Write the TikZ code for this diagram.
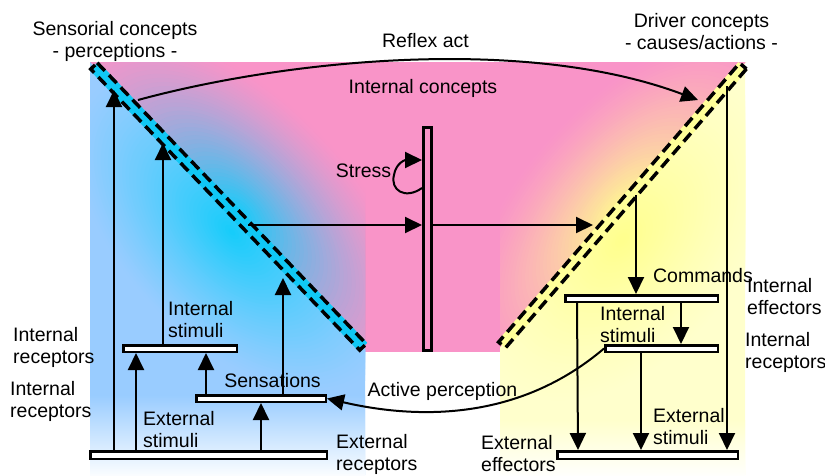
\documentclass[tikz,border=0pt]{standalone}
\usepackage{fontspec}
\setmainfont{Liberation Sans}
\usetikzlibrary{arrows.meta,calc}

\definecolor{pinkC}{HTML}{F994C8}
\definecolor{lblue}{HTML}{99CCFF}
\definecolor{cyanG}{HTML}{14CCFA}
\definecolor{cyanB}{HTML}{10C8F5}
\definecolor{yelP}{HTML}{FFFFCC}
\definecolor{yelB}{HTML}{FFFF8C}
\definecolor{yelBand}{HTML}{FFFF99}

% soft elliptic glow built from concentric ellipses:
% centre x, centre y, angle, x radius, y radius, inner colour, outer colour, falloff exponent
\newcommand\softglow[8]{%
  \begin{scope}[shift={(#1,#2)},rotate=#3]
    \foreach \k in {0,...,44}{%
      \pgfmathsetmacro\gs{1-\k/45}%
      \pgfmathsetmacro\gp{100*(1-\gs)^#8}%
      \pgfmathsetmacro\grx{\gs*#4}%
      \pgfmathsetmacro\gry{\gs*#5}%
      \fill[#6!\gp!#7] (0,0) ellipse [x radius=\grx pt, y radius=\gry pt];
    }
  \end{scope}}

\tikzset{
  bar/.style={draw, line width=2.5pt, fill=white, inner sep=0pt, minimum height=6.5pt},
  arr/.style={line width=2pt, -{Triangle[length=17pt,width=16pt]}},
  bandline/.style={line width=3.5pt, dash pattern=on 11pt off 6pt},
  lbl/.style={inner sep=0pt, align=left, anchor=west},
  txt/.style={inner sep=0pt, align=center}
}

\begin{document}
\begin{tikzpicture}[x=1pt,y=-1pt,font=\fontsize{19.5pt}{22pt}\selectfont]
\useasboundingbox (0,0) rectangle (825,475);

% ---- background areas ----
\fill[pinkC] (90,62) rectangle (745,352);

% left: perception side
\begin{scope}
  \clip (90,62) -- (365,62) -- (365,349) -- cycle;
  \softglow{240}{213}{-46.25}{230}{115}{cyanG}{pinkC}{1.4}
\end{scope}
\fill[lblue] (90,62) -- (365,349) -- (365,475) -- (90,475) -- cycle;
\shade[top color=lblue, bottom color=white!95!lblue] (90,395) rectangle (365,475);
\begin{scope}
  \clip (90,62) -- (365,349) -- (365,475) -- (90,475) -- cycle;
  \softglow{232}{232}{-46.25}{200}{110}{cyanG}{lblue}{1.2}
\end{scope}

% right: action side
\begin{scope}
  \clip (500,62) -- (746,62) -- (500,348) -- cycle;
  \softglow{622}{212}{49.2}{215}{105}{yelB}{pinkC}{1.3}
\end{scope}
\fill[yelP] (746,62) -- (500,348) -- (500,475) -- (745,475) -- (745,62) -- cycle;
\shade[top color=yelP, bottom color=white!94!yelP] (500,420) rectangle (745,475);
\begin{scope}
  \clip (746,62) -- (500,348) -- (500,475) -- (745,475) -- (745,62) -- cycle;
  \softglow{622}{240}{49.2}{190}{120}{yelB}{yelP}{1.2}
\end{scope}

% ---- dashed diagonal bands ----
\coordinate (LA) at (94,66);
\coordinate (LB) at (363,347);
\fill[cyanB] ($(LA)!6pt!90:(LB)$) -- ($(LB)!6pt!-90:(LA)$) -- ($(LB)!6pt!90:(LA)$) -- ($(LA)!6pt!-90:(LB)$) -- cycle;
\draw[bandline] ($(LA)!4.5pt!90:(LB)$) -- ($(LB)!4.5pt!-90:(LA)$) -- ($(LB)!4.5pt!90:(LA)$) -- ($(LA)!4.5pt!-90:(LB)$) -- cycle;

\coordinate (RA) at (743,66);
\coordinate (RB) at (502,345);
\fill[yelBand] ($(RA)!6pt!90:(RB)$) -- ($(RB)!6pt!-90:(RA)$) -- ($(RB)!6pt!90:(RA)$) -- ($(RA)!6pt!-90:(RB)$) -- cycle;
\draw[bandline] ($(RA)!4.5pt!90:(RB)$) -- ($(RB)!4.5pt!-90:(RA)$) -- ($(RB)!4.5pt!90:(RA)$) -- ($(RA)!4.5pt!-90:(RB)$) -- cycle;

% ---- bars ----
\node[bar, minimum width=113.5pt] (irL) at (180,348.5) {};
\node[bar, minimum width=129.5pt] (sens) at (261,398.5) {};
\node[bar, minimum width=236.5pt, minimum height=7.5pt] (erL) at (208.5,455) {};
\node[bar, minimum width=152.5pt] (ieR) at (641.5,298.5) {};
\node[bar, minimum width=112.5pt] (irR) at (661.5,348.5) {};
\node[bar, minimum width=180.5pt, minimum height=7.5pt] (eeR) at (647.5,455) {};
\node[draw, line width=3pt, inner sep=0pt, minimum width=8pt, minimum height=223pt] (core) at (427.5,239) {};

% ---- perception side arrows ----
\coordinate (tL1) at (114,90);
\coordinate (tL2) at (163,143);
\coordinate (tL3) at (283,278);
\draw[arr] ([xshift=-94.5pt]erL.north) -- (tL1);
\draw[arr] ([xshift=-17pt]irL.north) -- (tL2);
\draw[arr] ([xshift=22pt]sens.north) -- (tL3);
\draw[arr] ([xshift=-72.5pt]erL.north) -- ([xshift=-44pt]irL.south);
\draw[arr] ([xshift=-55pt]sens.north) -- ([xshift=26pt]irL.south);
\draw[arr] ([xshift=52.5pt]erL.north) -- (sens.south);

% ---- through the internal concepts ----
\coordinate (hL) at (248,225);
\coordinate (hR) at (593,225);
\draw[arr] (hL) -- (hL -| core.west);
\draw[arr] (hR -| core.east) -- (hR);
\draw[arr] ([yshift=51pt]core.west) .. controls (405,200) and (390,190) .. (394,175)
  .. controls (396,163) and (405,160) .. ([yshift=79pt]core.west);

% ---- action side arrows ----
\coordinate (sR1) at (727,86);
\coordinate (sR2) at (636,195);
\draw[arr] (sR1) -- (sR1 |- eeR.north);
\draw[arr] (sR2) -- (sR2 |- ieR.north);
\draw[arr] ([xshift=39.5pt]ieR.south) -- ([xshift=19.5pt]irR.north);
\draw[arr] ([xshift=-64.5pt]ieR.south) -- ([xshift=-69.5pt]eeR.north);
\draw[arr] ([xshift=-20.5pt]irR.south) -- ([xshift=-6.5pt]eeR.north);

% ---- reflex act and active perception ----
\coordinate (rfA) at (138,100);
\coordinate (rfB) at (698,100);
\draw[arr] (rfA) .. controls (285,60) and (525,35) .. (rfB);
\draw[arr] (irR.west) .. controls (520,420) and (420,420) .. (sens.east);

% ---- labels ----
\node[txt] (tSens) at (115,41.5) {Sensorial concepts\\- perceptions -};
\node[txt] (tDrv) at (701.5,31.5) {Driver concepts\\- causes/actions -};
\node[txt] (tRef) at (425.5,41) {Reflex act};
\node[txt] (tInt) at (423,88) {Internal concepts};
\node[txt] (tStr) at (363.5,171) {Stress};
\node[lbl] (tIsL) at (168,320) {Internal\\stimuli};
\node[lbl] (tIr1) at (13,347.5) {Internal\\receptors};
\node[lbl] (tIr2) at (10,401) {Internal\\receptors};
\node[txt] (tSn) at (272.5,381) {Sensations};
\node[lbl] (tEsL) at (143,430) {External\\stimuli};
\node[lbl] (tErL) at (336,454) {External\\receptors};
\node[txt] (tAP) at (442.5,391) {Active perception};
\node[txt] (tCmd) at (703,276) {Commands};
\node[lbl] (tIe) at (747,297) {Internal\\effectors};
\node[lbl] (tIsR) at (600,325) {Internal\\stimuli};
\node[lbl] (tIrR) at (745,352) {Internal\\receptors};
\node[lbl] (tEsR) at (653,426.5) {External\\stimuli};
\node[lbl] (tEe) at (481,454) {External\\effectors};
\end{tikzpicture}
\end{document}
